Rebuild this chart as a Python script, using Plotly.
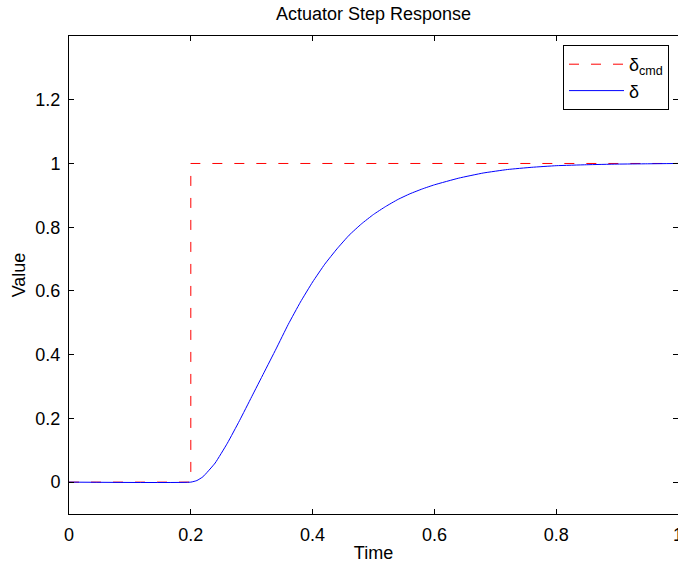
import plotly.graph_objects as go

# Commanded step input
cmd_time = [0.0, 0.2, 0.2, 1.0]
cmd_value = [0.0, 0.0, 1.0, 1.0]

# Actuator response
resp_time = [0.0, 0.2, 0.21, 0.22, 0.24, 0.26, 0.28, 0.30, 0.32, 0.34, 0.36, 0.38,
             0.40, 0.42, 0.44, 0.46, 0.48, 0.50, 0.52, 0.54, 0.56, 0.58, 0.60,
             0.64, 0.68, 0.72, 0.76, 0.80, 0.85, 0.90, 0.95, 1.0]
resp_value = [0.0, 0.0, 0.005, 0.017, 0.060, 0.122, 0.193, 0.268, 0.343, 0.418, 0.495, 0.565,
              0.628, 0.684, 0.732, 0.775, 0.810, 0.840, 0.865, 0.887, 0.905, 0.920, 0.933,
              0.954, 0.970, 0.981, 0.988, 0.993, 0.996, 0.998, 0.999, 1.0]

x_ticks = [0, 0.2, 0.4, 0.6, 0.8, 1]
y_ticks = [0, 0.2, 0.4, 0.6, 0.8, 1, 1.2]

FONT = "Liberation Sans, Arial, Helvetica, sans-serif"

fig = go.Figure()
fig.add_trace(go.Scatter(
    x=cmd_time, y=cmd_value, mode="lines", name="δ<sub>cmd</sub>",
    line=dict(color="#ff0000", width=1, dash="10px,12px"),
))
fig.add_trace(go.Scatter(
    x=resp_time, y=resp_value, mode="lines", name="δ",
    line=dict(color="#0000ff", width=1, shape="spline", smoothing=0.4),
))

axis_common = dict(
    showline=True, linecolor="black", linewidth=1, mirror="ticks",
    ticks="inside", ticklen=5, tickcolor="black", tickwidth=1,
    showgrid=False, zeroline=False,
    tickfont=dict(family=FONT, size=18, color="black"),
    ticklabeloverflow="allow",
)

fig.update_layout(
    width=678, height=569,
    margin=dict(l=69, r=0, t=36, b=55, autoexpand=False),
    paper_bgcolor="white", plot_bgcolor="white",
    font=dict(family=FONT, size=18, color="black"),
    title=dict(text="Actuator Step Response", x=(69 + 609 / 2) / 678, xanchor="center",
               y=1 - 14 / 569, yanchor="middle", yref="container",
               font=dict(family=FONT, size=18, color="black")),
    xaxis=dict(range=[0, 1], tickvals=x_ticks, ticktext=[str(v) for v in x_ticks],
               title=dict(text="Time", standoff=2, font=dict(size=18)),
               ticklabelstandoff=4, automargin=False, **axis_common),
    yaxis=dict(range=[-0.1, 1.4], tickvals=y_ticks, ticktext=[str(v) for v in y_ticks],
               title=dict(text="Value", standoff=5, font=dict(size=18)),
               ticklabelstandoff=4, automargin=False, **axis_common),
    showlegend=True,
    legend=dict(x=(669 - 69) / 609, xanchor="right", y=(514 - 45) / 478, yanchor="top",
                bgcolor="white", bordercolor="black", borderwidth=1,
                font=dict(family=FONT, size=18, color="black"),
                itemwidth=55, tracegroupgap=0),
)

fig.write_html("out.html")
